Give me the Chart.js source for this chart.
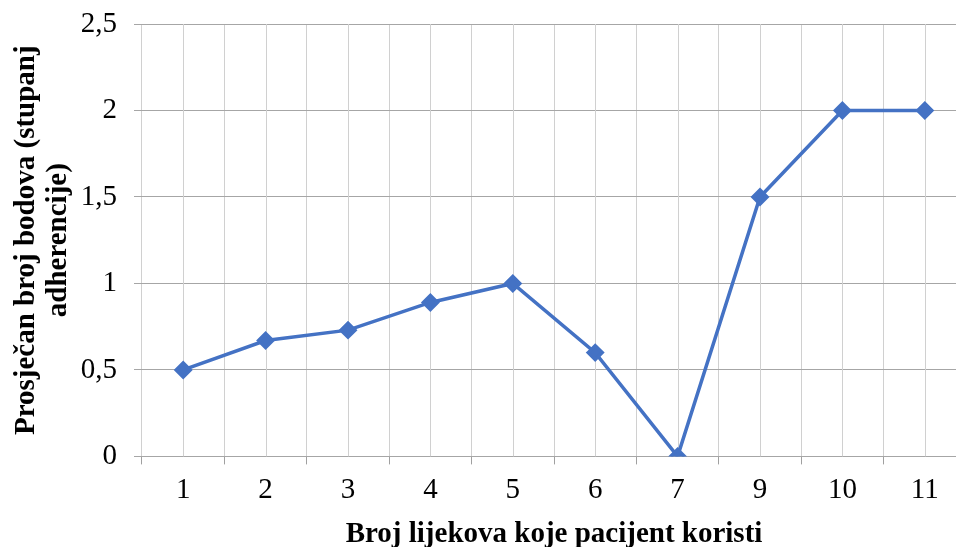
<!DOCTYPE html>
<html>
<head>
<meta charset="utf-8">
<script src="https://cdn.jsdelivr.net/npm/chart.js@4"></script>
<style>
  html, body { margin: 0; padding: 0; background: #fff; overflow: hidden; }
  #wrap { width: 980px; height: 555px; position: relative; }
</style>
</head>
<body>
<div id="wrap"><canvas id="lineChart"></canvas></div>
<script>
const categories = ['1', '2', '3', '4', '5', '6', '7', '9', '10', '11'];
const scores = [0.5, 0.67, 0.73, 0.89, 1.0, 0.6, 0, 1.5, 2, 2];
const xAxisTitle = 'Broj lijekova koje pacijent koristi';
const yAxisTitle = ['Prosječan broj bodova (stupanj', 'adherencije)'];

const serif = '"Liberation Serif", "Times New Roman", serif';

// vertical lines through each category centre (Excel draws both centres and boundaries)
const centreLines = {
  id: 'centreLines',
  beforeDatasetsDraw(chart) {
    const { ctx, chartArea, scales } = chart;
    ctx.save();
    ctx.strokeStyle = '#d0d0d0';
    ctx.lineWidth = 1;
    categories.forEach((c, i) => {
      const x = Math.round(scales.x.getPixelForValue(i)) + 0.5;
      ctx.beginPath();
      ctx.moveTo(x, chartArea.top);
      ctx.lineTo(x, chartArea.bottom);
      ctx.stroke();
    });
    ctx.restore();
  }
};

const ctx = document.getElementById('lineChart').getContext('2d');
new Chart(ctx, {
  type: 'line',
  data: {
    labels: categories,
    datasets: [{
      data: scores,
      borderColor: '#4472C4',
      backgroundColor: '#4472C4',
      borderWidth: 3.5,
      pointStyle: 'rectRot',
      pointRadius: 7,
      pointHoverRadius: 7,
      tension: 0,
    }],
  },
  options: {
    responsive: true,
    maintainAspectRatio: false,
    animation: false,
    layout: { padding: { top: 0, right: 14, left: 0, bottom: 0 } },
    plugins: { legend: { display: false }, tooltip: { enabled: false } },
    scales: {
      x: {
        offset: true,
        grid: { offset: true, color: '#d0d0d0', tickColor: '#a0a0a0', tickLength: 8 },
        border: { display: false },
        ticks: { color: '#000', font: { family: serif, size: 29 }, padding: 9, maxRotation: 0 },
        title: { display: true, text: xAxisTitle, color: '#000', font: { family: serif, size: 29, weight: 'bold', lineHeight: 1.2 }, padding: { top: 0, bottom: 3 } },
      },
      y: {
        min: 0,
        max: 2.5,
        afterFit: (scale) => { scale.width = 142; scale.paddingTop = 24; },
        grid: { color: '#a6a6a6', tickLength: 8 },
        border: { display: false },
        ticks: {
          stepSize: 0.5,
          color: '#000',
          font: { family: serif, size: 29 },
          padding: 17,
          callback: (v) => String(v).replace('.', ','),
        },
        title: { display: true, text: yAxisTitle, color: '#000', font: { family: serif, size: 29, weight: 'bold', lineHeight: 1.1 }, padding: { top: 11, bottom: 0 } },
      },
    },
  },
  plugins: [centreLines],
});
</script>
</body>
</html>
